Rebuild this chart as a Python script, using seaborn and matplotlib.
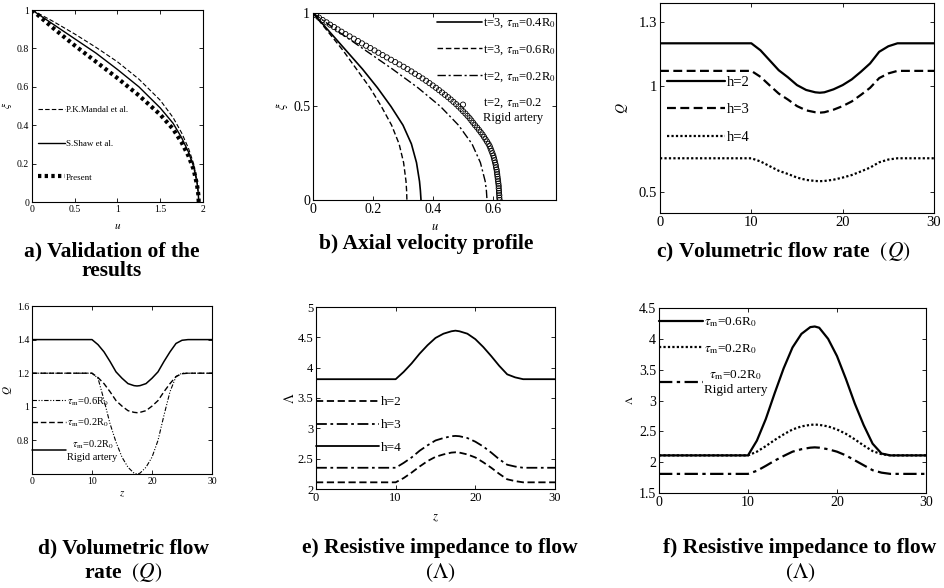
import matplotlib
matplotlib.use('Agg')
import seaborn as sns
from matplotlib import pyplot as plt
from matplotlib.lines import Line2D

# ---------------- data ----------------
# a) validation: u vs xi
u_a = [0, 0.25, 0.5, 0.75, 1.0, 1.25, 1.5, 1.65, 1.75, 1.83, 1.89, 1.93, 1.945, 1.95]
xi_mandal = [1, 0.94, 0.875, 0.805, 0.73, 0.64, 0.53, 0.44, 0.36, 0.28, 0.2, 0.11, 0.05, 0]
xi_shaw = [1, 0.925, 0.85, 0.775, 0.69, 0.6, 0.49, 0.41, 0.335, 0.26, 0.185, 0.1, 0.045, 0]
xi_present = [1, 0.905, 0.815, 0.73, 0.645, 0.555, 0.455, 0.38, 0.31, 0.24, 0.17, 0.09, 0.04, 0]

# b) axial velocity profile
xi_b = [1.0, 0.9, 0.8, 0.7, 0.6, 0.5, 0.4, 0.3, 0.2, 0.1, 0.05, 0.0]
u_t3_04 = [0, 0.055, 0.11, 0.165, 0.215, 0.26, 0.3, 0.328, 0.345, 0.355, 0.358, 0.36]
u_t3_06 = [0, 0.05, 0.1, 0.145, 0.19, 0.228, 0.262, 0.287, 0.302, 0.31, 0.312, 0.313]
u_t2_02 = [0, 0.085, 0.175, 0.265, 0.35, 0.425, 0.485, 0.53, 0.558, 0.574, 0.578, 0.58]
# rigid artery (open circles), last point is the stray marker
xi_rigid = [1.0, 0.9875, 0.975, 0.9625, 0.95, 0.9375, 0.925, 0.9125, 0.9, 0.8875, 0.875,
            0.8625, 0.85, 0.8375, 0.825, 0.8125, 0.8, 0.7875, 0.775, 0.7625, 0.75, 0.7375,
            0.725, 0.7125, 0.7, 0.6875, 0.675, 0.6625, 0.65, 0.6375, 0.625, 0.6125, 0.6,
            0.5875, 0.575, 0.5625, 0.55, 0.5375, 0.525, 0.5125, 0.5, 0.4875, 0.475, 0.4625,
            0.45, 0.4375, 0.425, 0.4125, 0.4, 0.3875, 0.375, 0.3625, 0.35, 0.3375, 0.325,
            0.3125, 0.3, 0.2875, 0.275, 0.2625, 0.25, 0.2375, 0.225, 0.2125, 0.2, 0.1875,
            0.175, 0.1625, 0.15, 0.1375, 0.125, 0.1125, 0.1, 0.0875, 0.075, 0.0625, 0.05,
            0.0375, 0.025, 0.0125, 0.0, 0.51]
u_rigid = [0.0, 0.01, 0.02, 0.032, 0.045, 0.057, 0.07, 0.082, 0.095, 0.108, 0.122, 0.136,
           0.15, 0.163, 0.177, 0.191, 0.205, 0.218, 0.232, 0.246, 0.26, 0.274, 0.288, 0.302,
           0.315, 0.328, 0.34, 0.353, 0.365, 0.377, 0.388, 0.399, 0.41, 0.42, 0.43, 0.44,
           0.45, 0.459, 0.468, 0.477, 0.485, 0.493, 0.5, 0.508, 0.515, 0.522, 0.528, 0.534,
           0.54, 0.547, 0.553, 0.559, 0.565, 0.57, 0.575, 0.58, 0.585, 0.589, 0.592, 0.595,
           0.598, 0.601, 0.603, 0.605, 0.607, 0.609, 0.61, 0.612, 0.613, 0.614, 0.615, 0.616,
           0.617, 0.618, 0.619, 0.619, 0.62, 0.62, 0.621, 0.621, 0.622, 0.5]

# axial distance for c)-f)
z = [0, 10, 11, 12, 13, 14, 15, 16, 17, 17.5, 18, 19, 20, 21, 22, 23, 24, 25, 26, 30]

# c) volumetric flow rate vs h
q_h2 = [1.2, 1.2, 1.167, 1.12, 1.073, 1.04, 1.003, 0.98, 0.969, 0.967, 0.969, 0.983, 1.003,
        1.03, 1.066, 1.105, 1.16, 1.186, 1.2, 1.2]
q_h3 = [1.07, 1.07, 1.042, 1.002, 0.963, 0.935, 0.904, 0.884, 0.875, 0.873, 0.875, 0.887,
        0.904, 0.926, 0.957, 0.99, 1.036, 1.058, 1.07, 1.07]
q_h4 = [0.658, 0.658, 0.643, 0.621, 0.599, 0.584, 0.567, 0.556, 0.551, 0.55, 0.551, 0.557,
        0.567, 0.579, 0.596, 0.614, 0.639, 0.652, 0.658, 0.658]

# d) volumetric flow rate vs tau_m
q_rigid = [1.4, 1.4, 1.37, 1.327, 1.27, 1.208, 1.17, 1.138, 1.126, 1.124, 1.126, 1.138, 1.17,
           1.208, 1.27, 1.327, 1.377, 1.396, 1.4, 1.4]
q_tau02 = [1.2, 1.2, 1.174, 1.138, 1.09, 1.037, 1.004, 0.977, 0.967, 0.965, 0.967, 0.977,
           1.004, 1.037, 1.09, 1.138, 1.18, 1.197, 1.2, 1.2]
q_tau06 = [1.2, 1.2, 1.17, 1.04, 0.9, 0.79, 0.7, 0.64, 0.605, 0.6, 0.605, 0.64, 0.7, 0.8,
           0.95, 1.09, 1.18, 1.2, 1.2, 1.2]

# e) resistive impedance vs h
lam_h4 = [3.81, 3.81, 3.93, 4.07, 4.23, 4.37, 4.49, 4.56, 4.6, 4.61, 4.6, 4.56, 4.47, 4.34,
          4.19, 4.03, 3.89, 3.84, 3.81, 3.81]
lam_h3 = [2.35, 2.35, 2.43, 2.52, 2.63, 2.72, 2.8, 2.84, 2.87, 2.875, 2.87, 2.84, 2.78, 2.7,
          2.6, 2.49, 2.4, 2.37, 2.35, 2.35]
lam_h2 = [2.11, 2.11, 2.18, 2.27, 2.37, 2.46, 2.53, 2.57, 2.6, 2.605, 2.6, 2.57, 2.52, 2.44,
          2.35, 2.25, 2.16, 2.13, 2.11, 2.11]

# f) resistive impedance vs tau_m
lam_tau06 = [2.11, 2.11, 2.35, 2.7, 3.12, 3.52, 3.86, 4.08, 4.19, 4.2, 4.18, 4.0, 3.72, 3.35,
             2.95, 2.6, 2.3, 2.14, 2.11, 2.11]
lam_tau02 = [2.11, 2.11, 2.17, 2.26, 2.36, 2.45, 2.53, 2.58, 2.605, 2.61, 2.605, 2.58, 2.53,
             2.46, 2.37, 2.27, 2.18, 2.13, 2.11, 2.11]
lam_rigid = [1.81, 1.81, 1.86, 1.94, 2.025, 2.1, 2.17, 2.21, 2.235, 2.24, 2.235, 2.21, 2.17,
             2.11, 2.03, 1.95, 1.87, 1.83, 1.81, 1.81]

titles = ['a) Validation of the\nresults', 'b) Axial velocity profile',
          'c) Volumetric flow rate  $(Q)$', 'd) Volumetric flow\nrate  $(Q)$',
          'e) Resistive impedance to flow\n$(\\Lambda)$', 'f) Resistive impedance to flow\n$(\\Lambda)$']

# ---------------- style ----------------
sns.set_theme(style='ticks', rc={
    'axes.edgecolor': 'black', 'axes.linewidth': 0.8,
    'xtick.color': 'black', 'ytick.color': 'black', 'text.color': 'black',
    'axes.labelcolor': 'black', 'xtick.direction': 'in', 'ytick.direction': 'in',
    'xtick.top': True, 'ytick.right': True,
    'xtick.major.size': 3, 'ytick.major.size': 3,
    'xtick.major.width': 0.6, 'ytick.major.width': 0.6,
})
plt.rcParams['font.family'] = ['Liberation Serif', 'DejaVu Serif']
plt.rcParams['mathtext.fontset'] = 'stix'

DASH = (0, (4, 2))
DASHDOT = (0, (6, 2, 1.5, 2))
DASHDOTDOT = (0, (4, 1.5, 1, 1.5, 1, 1.5))
DOT = (0, (1, 1))

W, H = 945, 588
fig = plt.figure(figsize=(W / 100, H / 100), dpi=100)


def box(l, t, r, b):
    return fig.add_axes([l / W, 1 - b / H, (r - l) / W, (b - t) / H])


def ticks(ax, xt, yt, size):
    ax.set_xticks(xt, labels=[f'{v:g}' for v in xt])
    ax.set_yticks(yt, labels=[f'{v:g}' for v in yt])
    ax.tick_params(labelsize=size, pad=2)


def line(ax, x, y, ls, lw=1.0):
    sns.lineplot(x=x, y=y, ax=ax, sort=False, estimator=None, color='black',
                 linestyle=ls, linewidth=lw, legend=False)


def legend(ax, handles, labels, anchor, size, spacing, hlen, loc='upper left'):
    leg = ax.legend(handles, labels, loc=loc, bbox_to_anchor=anchor, frameon=False,
                    fontsize=size, labelspacing=spacing, handlelength=hlen,
                    handletextpad=0.1, borderpad=0, borderaxespad=0)
    for t in leg.get_texts():
        t.set_multialignment('center')
    return leg


# ---------------- a) ----------------
ax = box(32, 10, 203, 202)
line(ax, u_a, xi_mandal, DASH, 0.8)
line(ax, u_a, xi_shaw, '-', 1.0)
line(ax, u_a, xi_present, (0, (0.8, 0.8)), 3.0)
ax.set_xlim(0, 2)
ax.set_ylim(0, 1)
ticks(ax, [0, 0.5, 1, 1.5, 2], [0, 0.2, 0.4, 0.6, 0.8, 1], 7)
ax.set_xlabel('$u$', fontsize=8, labelpad=5)
ax.set_ylabel('$\\xi$', fontsize=8, labelpad=2)
h = [Line2D([], [], color='black', lw=0.8, ls=DASH),
     Line2D([], [], color='black', lw=1.0),
     Line2D([], [], color='black', lw=3.0, ls=(0, (0.8, 0.8)))]
legend(ax, h, ['P.K.Mandal et al.', 'S.Shaw et al.', 'Present'], (0.035, 0.5), 6.5, 2.8, 3.0)

# ---------------- b) ----------------
ax = box(313, 13, 556, 200)
line(ax, u_t3_04, xi_b, '-', 1.2)
line(ax, u_t3_06, xi_b, DASH, 1.0)
line(ax, u_t2_02, xi_b, DASHDOT, 1.0)
sns.scatterplot(x=u_rigid, y=xi_rigid, ax=ax, s=14, marker='o', facecolors='none',
                edgecolors='black', linewidths=0.6, legend=False, zorder=3)
ax.set_xlim(0, 0.81)
ax.set_ylim(0, 1)
ticks(ax, [0, 0.2, 0.4, 0.6], [0, 0.5, 1], 10)
ax.set_xlabel('$u$', fontsize=9, labelpad=4)
ax.set_ylabel('$\\xi$', fontsize=9, labelpad=2)
h = [Line2D([], [], color='black', lw=1.2),
     Line2D([], [], color='black', lw=1.0, ls=DASH),
     Line2D([], [], color='black', lw=1.0, ls=DASHDOT),
     Line2D([], [], color='none')]
legend(ax, h, ['t=3, $\\tau_{\\rm m}$=0.4R$_0$', 't=3, $\\tau_{\\rm m}$=0.6R$_0$',
               't=2, $\\tau_{\\rm m}$=0.2R$_0$', 't=2, $\\tau_{\\rm m}$=0.2\nRigid artery'],
       (1.0, 0.98), 9, 1.05, 3.6, loc='upper right')

# ---------------- c) ----------------
ax = box(660, 3, 934, 213)
line(ax, z, q_h2, '-', 1.6)
line(ax, z, q_h3, DASH, 1.6)
line(ax, z, q_h4, DOT, 1.6)
ax.set_xlim(0, 30)
ax.set_ylim(0.4, 1.39)
ticks(ax, [0, 10, 20, 30], [0.5, 1, 1.3], 10.5)
ax.set_ylabel('$Q$', fontsize=10, labelpad=6)
h = [Line2D([], [], color='black', lw=1.6),
     Line2D([], [], color='black', lw=1.6, ls=DASH),
     Line2D([], [], color='black', lw=1.6, ls=DOT)]
legend(ax, h, ['h=2', 'h=3', 'h=4'], (0.025, 0.655), 10.5, 1.0, 4.0)

# ---------------- d) ----------------
ax = box(32, 306, 212, 474)
line(ax, z, q_rigid, '-', 1.1)
line(ax, z, q_tau02, DASH, 1.0)
line(ax, z, q_tau06, DASHDOTDOT, 0.8)
ax.set_xlim(0, 30)
ax.set_ylim(0.6, 1.6)
ticks(ax, [0, 10, 20, 30], [0.8, 1, 1.2, 1.4, 1.6], 7)
ax.set_xlabel('$z$', fontsize=8, labelpad=3)
ax.set_ylabel('$Q$', fontsize=8, labelpad=2)
h = [Line2D([], [], color='black', lw=0.8, ls=DASHDOTDOT),
     Line2D([], [], color='black', lw=1.0, ls=DASH),
     Line2D([], [], color='black', lw=1.1)]
legend(ax, h, ['$\\tau_{\\rm m}$=0.6R$_0$', '$\\tau_{\\rm m}$=0.2R$_0$',
               '$\\tau_{\\rm m}$=0.2R$_0$\nRigid artery'], (0.0, 0.47), 7.5, 0.9, 3.3)

# ---------------- e) ----------------
ax = box(316, 307, 555, 489)
line(ax, z, lam_h4, '-', 1.3)
line(ax, z, lam_h3, DASHDOT, 1.3)
line(ax, z, lam_h2, DASH, 1.3)
ax.set_xlim(0, 30)
ax.set_ylim(2, 5)
ticks(ax, [0, 10, 20, 30], [2, 2.5, 3, 3.5, 4, 4.5, 5], 9)
ax.set_xlabel('$z$', fontsize=9, labelpad=6)
ax.set_ylabel('$\\mathit{\\Lambda}$', fontsize=10, labelpad=0)
h = [Line2D([], [], color='black', lw=1.3, ls=DASH),
     Line2D([], [], color='black', lw=1.3, ls=DASHDOT),
     Line2D([], [], color='black', lw=1.3)]
legend(ax, h, ['h=2', 'h=3', 'h=4'], (0.0, 0.51), 9.5, 0.8, 4.8)

# ---------------- f) ----------------
ax = box(659, 308, 926, 493)
line(ax, z, lam_tau06, '-', 1.6)
line(ax, z, lam_tau02, (0, (1, 1)), 1.6)
line(ax, z, lam_rigid, DASHDOT, 1.6)
ax.set_xlim(0, 30)
ax.set_ylim(1.5, 4.5)
ticks(ax, [0, 10, 20, 30], [1.5, 2, 2.5, 3, 3.5, 4, 4.5], 10)
ax.set_ylabel('$\\mathit{\\Lambda}$', fontsize=8, labelpad=3)
h = [Line2D([], [], color='black', lw=1.6),
     Line2D([], [], color='black', lw=1.6, ls=(0, (1, 1))),
     Line2D([], [], color='black', lw=1.6, ls=DASHDOT)]
legend(ax, h, ['$\\tau_{\\rm m}$=0.6R$_0$', '$\\tau_{\\rm m}$=0.2R$_0$',
               '$\\tau_{\\rm m}$=0.2R$_0$\nRigid artery'], (0.0, 0.96), 9.5, 0.95, 3.3)

# ---------------- captions ----------------
cap = dict(ha='center', va='center', fontsize=15.5, fontweight='bold')
fig.text(112 / W, 1 - 261 / H, titles[0], linespacing=1.0, **cap)
fig.text(426 / W, 1 - 244 / H, titles[1], **cap)
fig.text(783 / W, 1 - 252 / H, titles[2], **cap)
fig.text(123 / W, 1 - 561 / H, titles[3], linespacing=1.15, **cap)
fig.text(440 / W, 1 - 561 / H, titles[4], linespacing=1.15, **cap)
fig.text(800 / W, 1 - 561 / H, titles[5], linespacing=1.15, **cap)

fig.savefig('out.png', dpi=100)
